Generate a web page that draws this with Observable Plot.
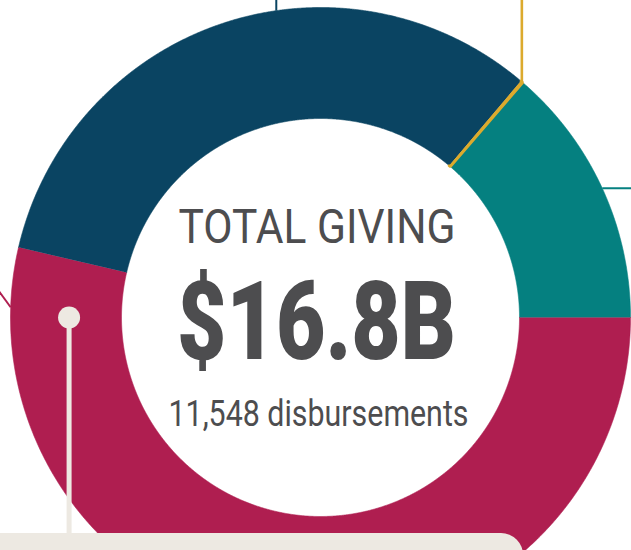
<!DOCTYPE html>
<html>
<head>
<meta charset="utf-8">
<script src="https://cdn.jsdelivr.net/npm/d3@7"></script>
<script src="https://cdn.jsdelivr.net/npm/@observablehq/plot@0.6"></script>
<style>
  html, body { margin: 0; padding: 0; background: #fff; overflow: hidden; }
  #chart svg { display: block; }
</style>
</head>
<body>
<div id="chart"></div>
<script>
// ---- Data ----
const categories = ["Teal share", "Crimson share", "Navy share", "Gold share"];
const values = [2.30, 9.01, 5.47, 0.02]; // $B, total 16.8
const colors = ["#058080", "#af1e50", "#0a4462", "#dcaa2d"];
const titleText = "TOTAL GIVING";
const totalText = "$16.8B";
const countText = "11,548 disbursements";

// ---- Geometry (unit = outer radius) ----
const R_OUT = 1;
const R_IN = 199 / 310;
const START = 40.72 * Math.PI / 180;
const X_DOMAIN = [-320 / 310, 311 / 310];
const Y_DOMAIN = [-233 / 310, 317 / 310];
const FONT = "Roboto, 'Liberation Sans', sans-serif";
const INK = "#4d4d4f";
const BEIGE = "#ede9e2";

const arcs = d3.pie().sort(null).startAngle(START).endAngle(START + 2 * Math.PI)(values)
  .map((a, i) => ({...a, category: categories[i]}));

const pt = (r, a) => ({x: r * Math.sin(a), y: r * Math.cos(a)});

function slicePolygon(d) {
  const step = Math.PI / 900;
  const n = Math.max(2, Math.ceil((d.endAngle - d.startAngle) / step));
  const out = [], inn = [];
  for (let i = 0; i <= n; i++) {
    const a = d.startAngle + (d.endAngle - d.startAngle) * i / n;
    out.push({...pt(R_OUT, a), category: d.category});
    inn.push({...pt(R_IN, a), category: d.category});
  }
  return out.concat(inn.reverse());
}
const ringPoints = arcs.flatMap(slicePolygon);
const goldPoints = slicePolygon(arcs[3]);

// Callout leader lines
const mid = d => (d.startAngle + d.endAngle) / 2;
const deg = v => v * Math.PI / 180;
const leaders = [];
{
  const p = pt(R_OUT, deg(351.8));
  leaders.push({category: categories[2], x1: p.x, y1: p.y, x2: p.x, y2: Y_DOMAIN[1] + 0.02, w: 2});
}
{
  const p = pt(R_OUT, mid(arcs[3]));
  leaders.push({category: categories[3], x1: p.x, y1: p.y, x2: p.x, y2: Y_DOMAIN[1] + 0.02, w: 2.6});
}
{
  const p = pt(R_OUT, mid(arcs[0]));
  leaders.push({category: categories[0], x1: p.x, y1: p.y, x2: X_DOMAIN[1] + 0.02, y2: p.y, w: 2});
}
{
  const p = pt(R_OUT, deg(271.9));
  const dx = -10, dy = 13.7;
  const t = (p.x - (X_DOMAIN[0] - 0.02)) / -dx;
  leaders.push({category: categories[1], x1: p.x, y1: p.y, x2: p.x + dx * t, y2: p.y + dy * t, w: 2});
}

// pointer dot + stem into the label box
const pointer = [pt(0.811, deg(270))];
const boxTop = (317 - 533) / 310;
const box = [{x1: X_DOMAIN[0] - 0.2, x2: (523 - 320) / 310, y1: Y_DOMAIN[0] - 0.2, y2: boxTop}];

const chart = Plot.plot({
  width: 631,
  height: 550,
  margin: 0,
  x: {domain: X_DOMAIN, axis: null},
  y: {domain: Y_DOMAIN, axis: null},
  color: {domain: categories, range: colors},
  style: {background: "#fff", overflow: "hidden"},
  marks: [
    Plot.link(leaders, {x1: "x1", y1: "y1", x2: "x2", y2: "y2", stroke: "category", strokeWidth: "w"}),
    Plot.line(ringPoints, {x: "x", y: "y", z: "category", fill: "category", stroke: "category", strokeWidth: 0.6, curve: "linear"}),
    Plot.line(goldPoints, {x: "x", y: "y", z: "category", fill: "category", stroke: "category", strokeWidth: 2.8, strokeLinejoin: "miter"}),
    Plot.rect(box, {x1: "x1", x2: "x2", y1: "y1", y2: "y2", fill: BEIGE, rx: 22}),
    Plot.ruleX(pointer, {x: "x", y1: "y", y2: boxTop, stroke: BEIGE, strokeWidth: 5}),
    Plot.dot(pointer, {x: "x", y: "y", r: 11, fill: BEIGE}),
    Plot.text([titleText], {x: 0, y: 0, text: d => d, dx: -3.5, dy: -75, lineAnchor: "bottom",
      fontSize: 47.5, fontFamily: FONT, fill: INK, className: "lbl-title"}),
    Plot.text([totalText], {x: 0, y: 0, text: d => d, dx: -4, dy: 41, lineAnchor: "bottom",
      fontSize: 109, fontWeight: 900, fontFamily: FONT, fill: INK, className: "lbl-total"}),
    Plot.text([countText], {x: 0, y: 0, text: d => d, dx: -2, dy: 108, lineAnchor: "bottom",
      fontSize: 36, fontFamily: FONT, fill: INK, className: "lbl-count"})
  ]
});
document.getElementById("chart").appendChild(chart);

// condense the labels to the narrow widths of the original typography
const fit = {"lbl-title": 277, "lbl-total": 279, "lbl-count": 300};
for (const [cls, len] of Object.entries(fit)) {
  d3.select(chart).selectAll(`g.${cls} text`)
    .attr("textLength", len)
    .attr("lengthAdjust", "spacingAndGlyphs");
}
</script>
</body>
</html>
